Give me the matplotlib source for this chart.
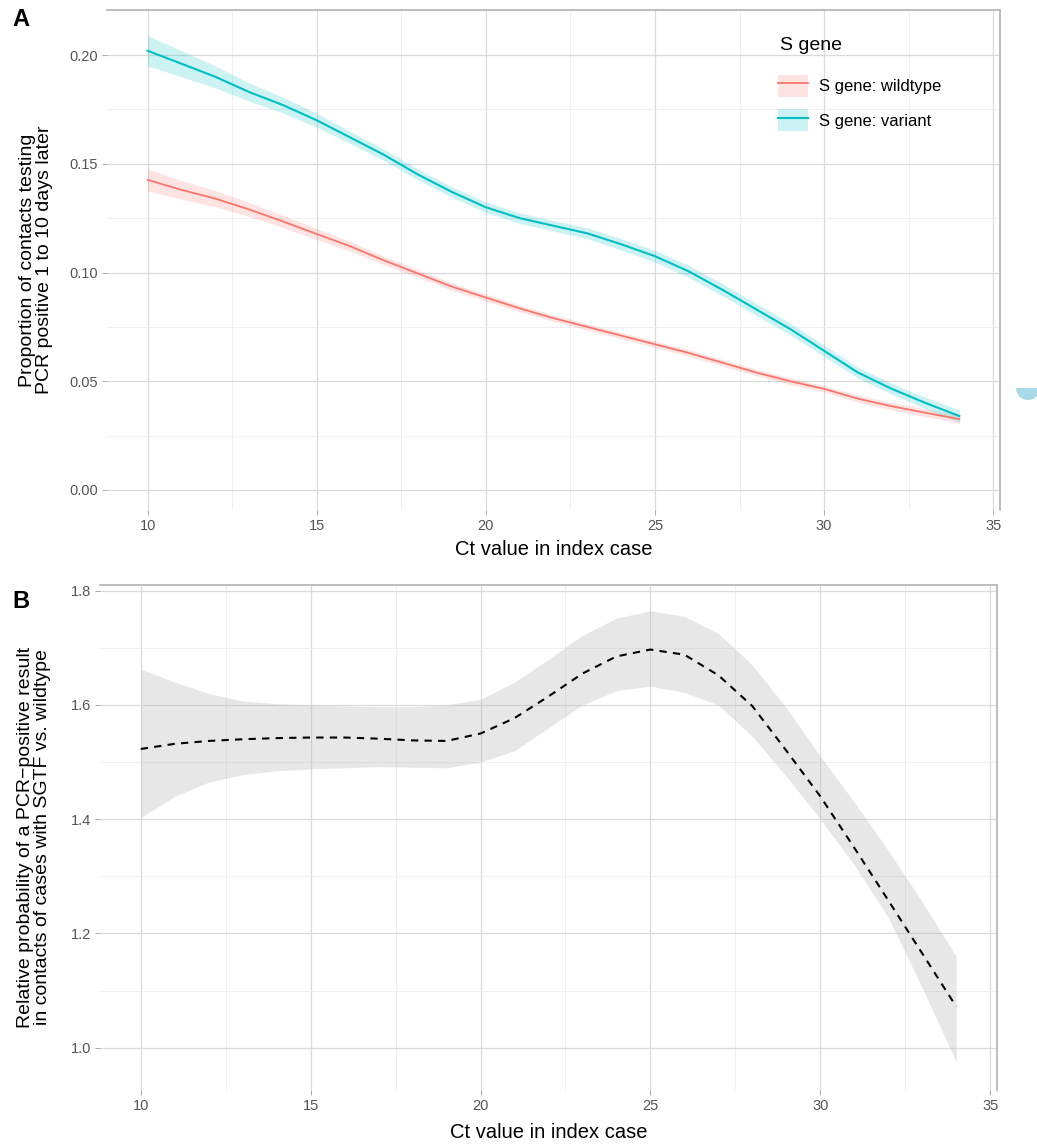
import matplotlib
matplotlib.use("Agg")
import matplotlib.pyplot as plt
from matplotlib.patches import Patch, Wedge
from matplotlib.lines import Line2D
from matplotlib.transforms import IdentityTransform
import numpy as np

plt.rcParams['font.family'] = ['Liberation Sans', 'DejaVu Sans']

# ---------------- data ----------------
ct = [10, 11, 12, 13, 14, 15, 16, 17, 18, 19, 20, 21, 22, 23, 24, 25, 26, 27, 28, 29, 30, 31, 32, 33, 34]

variant_prop = [0.202, 0.196, 0.190, 0.183, 0.177, 0.170, 0.162, 0.154, 0.145, 0.137,
                0.130, 0.125, 0.1215, 0.118, 0.113, 0.1075, 0.1005, 0.092, 0.083, 0.074,
                0.064, 0.054, 0.0465, 0.040, 0.034]
variant_hw = [0.0070, 0.0060, 0.0050, 0.0042, 0.0036, 0.0032, 0.0028, 0.0026, 0.0025, 0.0024,
              0.0024, 0.0024, 0.0024, 0.0025, 0.0026, 0.0027, 0.0028, 0.0028, 0.0028, 0.0027,
              0.0026, 0.0025, 0.0025, 0.0026, 0.0028]

wildtype_prop = [0.1426, 0.138, 0.134, 0.129, 0.1235, 0.1177, 0.112, 0.1055, 0.0995, 0.0935,
                 0.0885, 0.0835, 0.079, 0.075, 0.071, 0.067, 0.063, 0.0585, 0.054, 0.050,
                 0.0465, 0.042, 0.0385, 0.0355, 0.0326]
wildtype_hw = [0.0050, 0.0043, 0.0037, 0.0032, 0.0028, 0.0025, 0.0022, 0.0020, 0.0018, 0.0017,
               0.0016, 0.0015, 0.0015, 0.0015, 0.0015, 0.0015, 0.0015, 0.0015, 0.0015, 0.0015,
               0.0015, 0.0016, 0.0017, 0.0018, 0.0020]

rel_prob = [1.523, 1.532, 1.537, 1.540, 1.542, 1.543, 1.543, 1.541, 1.538, 1.537,
            1.550, 1.577, 1.615, 1.655, 1.685, 1.697, 1.688, 1.652, 1.598, 1.520,
            1.440, 1.350, 1.258, 1.165, 1.072]
rel_upper = [1.663, 1.640, 1.620, 1.607, 1.602, 1.600, 1.598, 1.597, 1.597, 1.600,
             1.610, 1.640, 1.680, 1.722, 1.752, 1.765, 1.755, 1.725, 1.670, 1.595,
             1.510, 1.430, 1.345, 1.255, 1.160]
rel_lower = [1.403, 1.440, 1.465, 1.478, 1.485, 1.488, 1.490, 1.492, 1.491, 1.490,
             1.500, 1.520, 1.560, 1.600, 1.625, 1.633, 1.622, 1.600, 1.545, 1.475,
             1.400, 1.320, 1.228, 1.105, 0.975]

x_ticks = [10, 15, 20, 25, 30, 35]
a_yticks = [0.00, 0.05, 0.10, 0.15, 0.20]
b_yticks = [1.0, 1.2, 1.4, 1.6, 1.8]

legend_title = "S gene"
series_labels = ["S gene: wildtype", "S gene: variant"]
red = "#F8766D"
teal = "#00BFC4"

# ---------------- figure ----------------
W, H = 1037, 1147
fig = plt.figure(figsize=(W / 100, H / 100), dpi=100)


def px_axes(left, top, right, bottom):
    return fig.add_axes([left / W, 1 - bottom / H, (right - left) / W, (bottom - top) / H])


def style(ax, major_y, minor_y):
    ax.set_xlim(8.8, 35.2)
    ax.set_xticks(x_ticks)
    ax.set_xticks([12.5, 17.5, 22.5, 27.5, 32.5], minor=True)
    ax.set_yticks(major_y)
    ax.set_yticks(minor_y, minor=True)
    ax.grid(which='major', color='#DADADA', lw=0.9)
    ax.grid(which='minor', color='#EDEDED', lw=0.6)
    ax.set_axisbelow(True)
    for s in ['left', 'bottom']:
        ax.spines[s].set_visible(False)
    for s in ['top', 'right']:
        ax.spines[s].set_color('#B8B8B8')
        ax.spines[s].set_linewidth(1.3)
    ax.tick_params(which='major', length=3.5, width=0.7, color='#AAAAAA',
                   labelcolor='#555555', labelsize=10.5, pad=3)
    ax.tick_params(which='minor', length=0)


# ----- Panel A -----
axA = px_axes(107, 10, 1000, 510)
axA.fill_between(ct, np.array(wildtype_prop) - np.array(wildtype_hw),
                 np.array(wildtype_prop) + np.array(wildtype_hw),
                 color=red, alpha=0.2, lw=0)
axA.fill_between(ct, np.array(variant_prop) - np.array(variant_hw),
                 np.array(variant_prop) + np.array(variant_hw),
                 color=teal, alpha=0.2, lw=0)
axA.plot(ct, wildtype_prop, color=red, lw=1.3)
axA.plot(ct, variant_prop, color=teal, lw=1.5)
axA.set_ylim(-0.0092, 0.2207)
style(axA, a_yticks, [0.025, 0.075, 0.125, 0.175])
axA.set_yticklabels(["0.00", "0.05", "0.10", "0.15", "0.20"])
axA.set_xlabel("Ct value in index case", fontsize=14.5, labelpad=5)
axA.set_ylabel("Proportion of contacts testing\nPCR positive 1 to 10 days later",
               fontsize=14, labelpad=12, linespacing=1.0)

handles = [(Patch(facecolor=red, alpha=0.2, lw=0), Line2D([], [], color=red, lw=1.3)),
           (Patch(facecolor=teal, alpha=0.2, lw=0), Line2D([], [], color=teal, lw=1.5))]
leg = axA.legend(handles, series_labels, loc='upper left',
                 bbox_to_anchor=(0.735, 0.900), frameon=False, fontsize=12,
                 handlelength=1.75, handleheight=1.65,
                 handletextpad=0.7, labelspacing=0.75)
axA.text(0.7536, 0.93, legend_title, transform=axA.transAxes, fontsize=14,
         ha='left', va='center')

# ----- Panel B -----
axB = px_axes(100, 585, 997, 1090)
axB.fill_between(ct, rel_lower, rel_upper, color='#BBBBBB', alpha=0.35, lw=0)
axB.plot(ct, rel_prob, color='black', lw=1.5, ls=(0, (3.5, 3)))
axB.set_ylim(0.926, 1.81)
style(axB, b_yticks, [1.1, 1.3, 1.5, 1.7])
axB.set_yticklabels(["1.0", "1.2", "1.4", "1.6", "1.8"])
axB.set_xlabel("Ct value in index case", fontsize=14.5, labelpad=7)
axB.set_ylabel("Relative probability of a PCR\u2212positive result\nin contacts of cases with SGTF vs. wildtype",
               fontsize=14, labelpad=14, linespacing=1.0)

# panel letters
fig.text(12 / W, 1 - 19 / H, "A", fontsize=17, fontweight='bold', va='center', ha='left')
fig.text(12 / W, 1 - 601 / H, "B", fontsize=17, fontweight='bold', va='center', ha='left')

# small decorative blob at right edge
fig.patches.append(Wedge((1028, H - 388), 12, 180, 360, facecolor='#A9D8E6',
                         edgecolor='none', transform=IdentityTransform(), figure=fig))

fig.savefig("out.png", dpi=100)
